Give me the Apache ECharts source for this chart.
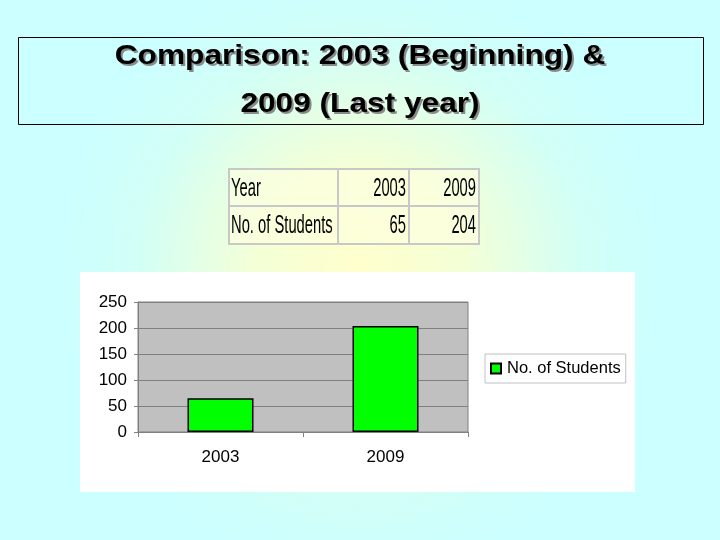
<!DOCTYPE html>
<html>
<head>
<meta charset="utf-8">
<script src="https://cdn.jsdelivr.net/npm/echarts@6/dist/echarts.min.js"></script>
<style>
html,body{margin:0;padding:0;background:#ccffff;}
#c{width:720px;height:540px;}
</style>
</head>
<body>
<div id="c"></div>
<script>
var titleLines = ['Comparison: 2003 (Beginning) &', '2009 (Last year)'];
var categories = ['2003', '2009'];
var studentValues = [65, 204];
var seriesName = 'No. of Students';
var tableHeader = 'Year';
var yTicks = [0, 50, 100, 150, 200, 250];

var chart = echarts.init(document.getElementById('c'));

// table graphics built from the data arrays
var tbl = [];
var colX = [229, 338, 409, 479];
var rowY = [169, 206, 244];
var rows = [[tableHeader].concat(categories), [seriesName].concat(studentValues.map(String))];
tbl.push({type:'rect', shape:{x:229, y:169, width:250, height:75}, style:{fill:'rgba(255,255,225,0.55)', stroke:'#c8c8c8', lineWidth:2}});
tbl.push({type:'line', shape:{x1:229, y1:206, x2:479, y2:206}, style:{stroke:'#c8c8c8', lineWidth:2}});
tbl.push({type:'line', shape:{x1:338, y1:169, x2:338, y2:244}, style:{stroke:'#c8c8c8', lineWidth:2}});
tbl.push({type:'line', shape:{x1:409, y1:169, x2:409, y2:244}, style:{stroke:'#c8c8c8', lineWidth:2}});
rows.forEach(function(r, ri){
  var cy = (rowY[ri] + rowY[ri+1]) / 2 + 1;
  r.forEach(function(t, ci){
    var left = ci === 0;
    tbl.push({type:'text', x: left ? colX[0] + 2 : colX[ci+1] - 3, y: cy, scaleX: 0.59, scaleY: 1.04,
      style:{text:t, x:0, y:0, fill:'#000', font:'25px "Liberation Sans", Arial, sans-serif',
        align: left ? 'left' : 'right', verticalAlign:'middle'}});
  });
});

var titleGraphics = [];
var titleY = [56, 104];
titleLines.forEach(function(t, i){
  titleGraphics.push({type:'text', x:362, y:titleY[i] + 2, scaleX:1.13,
    style:{text:t, x:0, y:0, align:'center', verticalAlign:'middle', font:'bold 28px "Liberation Sans", Arial, sans-serif', fill:'#8a8a8a'}});
  titleGraphics.push({type:'text', x:360, y:titleY[i], scaleX:1.13,
    style:{text:t, x:0, y:0, align:'center', verticalAlign:'middle', font:'bold 28px "Liberation Sans", Arial, sans-serif', fill:'#000'}});
});

var option = {
  backgroundColor: {type:'radial', x:0.5, y:0.5, r:0.55, colorStops:[
    {offset:0, color:'#ffffcc'}, {offset:0.35, color:'#f4ffd6'}, {offset:0.75, color:'#d2fff6'}, {offset:1, color:'#ccffff'}]},
  animation:false,
  graphic: [
    {type:'rect', shape:{x:80, y:272, width:555, height:220}, style:{fill:'#ffffff'}, z:-1},
    {type:'rect', shape:{x:18.5, y:37.5, width:685, height:87}, style:{fill:'none', stroke:'#000', lineWidth:1}}
  ].concat(titleGraphics).concat(tbl),
  grid: {left:138, top:302, width:330, height:130, show:true, backgroundColor:'#c0c0c0', borderColor:'#808080', borderWidth:1},
  legend: {
    left:485, top:354, orient:'vertical', data:[seriesName],
    backgroundColor:'#ffffff', borderColor:'#c0c0c0', borderWidth:1, padding:[6,5,6,5],
    itemWidth:10, itemHeight:10, itemGap:5, icon:'rect',
    textStyle:{fontSize:16.5, fontFamily:'"Liberation Sans", Arial, sans-serif', color:'#000', padding:[0,0,0,1]}
  },
  xAxis: {
    type:'category', data:categories,
    axisLine:{lineStyle:{color:'#808080', width:1}},
    axisTick:{show:true, length:5, lineStyle:{color:'#808080'}},
    axisLabel:{fontSize:17, color:'#000', fontFamily:'"Liberation Sans", Arial, sans-serif', margin:17}
  },
  yAxis: {
    type:'value', min:yTicks[0], max:yTicks[yTicks.length-1], interval:50,
    axisLine:{show:true, lineStyle:{color:'#808080'}},
    axisTick:{show:true, length:4, lineStyle:{color:'#808080'}},
    splitLine:{lineStyle:{color:'#808080', width:1}},
    axisLabel:{fontSize:17, color:'#000', fontFamily:'"Liberation Sans", Arial, sans-serif', margin:11}
  },
  series: [{
    name:seriesName, type:'bar', data:studentValues, barWidth:66,
    itemStyle:{color:'#00ff00', borderColor:'#000', borderWidth:1.5}
  }]
};
chart.setOption(option);
</script>
</body>
</html>
